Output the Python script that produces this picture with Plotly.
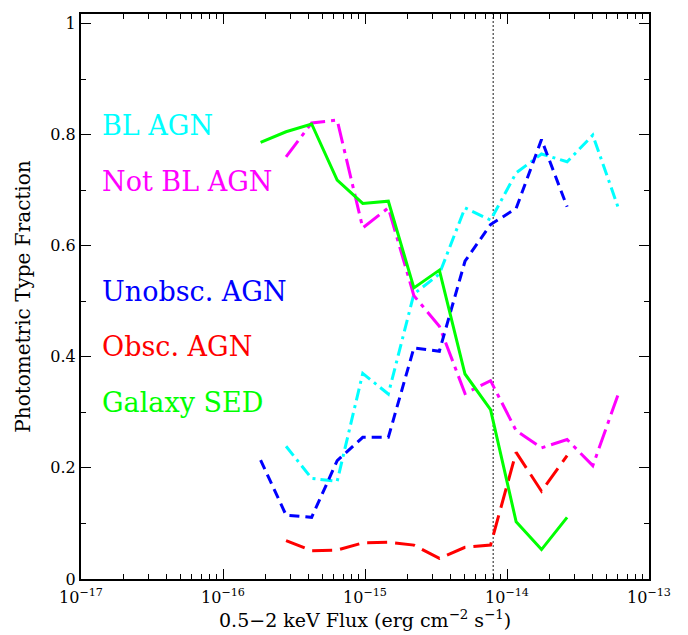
import plotly.graph_objects as go

# Flux bin centres (erg cm^-2 s^-1)
flux = [1.84e-16, 2.78e-16, 4.21e-16, 6.37e-16, 9.64e-16, 1.46e-15, 2.21e-15,
        3.34e-15, 5.06e-15, 7.66e-15, 1.16e-14, 1.75e-14, 2.65e-14, 4.02e-14, 6.08e-14]

bl_agn = [None, 0.239, 0.181, 0.176, 0.370, 0.333, 0.513, 0.549, 0.668, 0.646,
          0.731, 0.765, 0.751, 0.799, 0.668]
not_bl_agn = [None, 0.760, 0.821, 0.826, 0.632, 0.668, 0.510, 0.455, 0.334, 0.357,
              0.267, 0.236, 0.251, 0.204, 0.333]
unobsc_agn = [0.214, 0.115, 0.111, 0.213, 0.255, 0.255, 0.416, 0.410, 0.572, 0.638,
              0.667, 0.791, 0.670, None, None]
obsc_agn = [None, 0.069, 0.051, 0.052, 0.065, 0.066, 0.061, 0.037, 0.057, 0.061,
            0.228, 0.158, 0.222, None, None]
galaxy_sed = [0.786, 0.805, 0.819, 0.718, 0.676, 0.680, 0.524, 0.556, 0.369, 0.305,
              0.103, 0.053, 0.111, None, None]

divider_flux = 8e-15

x_tickvals = [1e-17, 1e-16, 1e-15, 1e-14, 1e-13]
x_ticktext = ["10<sup>\u221217</sup>", "10<sup>\u221216</sup>", "10<sup>\u221215</sup>",
              "10<sup>\u221214</sup>", "10<sup>\u221213</sup>"]
x_minor = [m * d for d in [1e-17, 1e-16, 1e-15, 1e-14] for m in range(2, 10)]
y_tickvals = [0, 0.2, 0.4, 0.6, 0.8, 1]
y_ticktext = ["0", "0.2", "0.4", "0.6", "0.8", "1"]
y_minor = [0.1, 0.3, 0.5, 0.7, 0.9]

x_title = "0.5\u22122 keV Flux (erg cm<sup>\u22122</sup> s<sup>\u22121</sup>)"

series = [
    ("BL AGN", bl_agn, "#00ffff", "12px,5px,3px,5px", 0.817),
    ("Not BL AGN", not_bl_agn, "#ff00ff", "20px,6px,4px,6px", 0.716),
    ("Unobsc. AGN", unobsc_agn, "#0000ff", "10px,6px", 0.5175),
    ("Obsc. AGN", obsc_agn, "#ff0000", "20px,8px", 0.418),
    ("Galaxy SED", galaxy_sed, "#00ff00", "solid", 0.318),
]

fig = go.Figure()
fig.add_trace(go.Scatter(x=[divider_flux, divider_flux], y=[0, 1.02], mode="lines",
                         line=dict(color="#666666", width=1.5, dash="2px,2px"),
                         showlegend=False, hoverinfo="skip"))
for name, vals, col, dash, ly in series:
    fig.add_trace(go.Scatter(x=flux, y=vals, mode="lines", name=name,
                             line=dict(color=col, width=3, dash=dash),
                             connectgaps=False, showlegend=False))
    fig.add_annotation(text=name, xref="paper", yref="y", x=0.034, y=ly,
                       xanchor="left", yanchor="middle", showarrow=False,
                       font=dict(family="DejaVu Serif", size=27, color=col))

fig.add_annotation(text=x_title, xref="paper", yref="paper", x=0.5, y=-0.071,
                   xanchor="center", yanchor="middle", showarrow=False,
                   font=dict(family="DejaVu Serif", size=19, color="black"))

axis_common = dict(showgrid=False, zeroline=False, showline=True, linecolor="black",
                   linewidth=2, mirror="ticks", ticks="inside", tickcolor="black",
                   tickwidth=1.3, ticklen=10,
                   tickfont=dict(family="DejaVu Serif", size=16, color="black"))

fig.update_xaxes(type="log", range=[-17, -13], tickmode="array", tickvals=x_tickvals,
                 ticktext=x_ticktext, ticklabelstandoff=3,
                 minor=dict(ticks="inside", ticklen=5, tickcolor="black", tickwidth=1.3,
                            tickmode="array", tickvals=x_minor, showgrid=False),
                 **axis_common)
fig.update_yaxes(range=[0, 1.017], tickmode="array", tickvals=y_tickvals,
                 ticktext=y_ticktext,
                 minor=dict(ticks="inside", ticklen=5, tickcolor="black", tickwidth=1.3,
                            tickmode="array", tickvals=y_minor, showgrid=False),
                 title=dict(text="Photometric Type Fraction",
                            font=dict(family="DejaVu Serif", size=20, color="black"),
                            standoff=14),
                 **axis_common)

fig.update_layout(width=688, height=635, margin=dict(l=81, r=39, t=12, b=56),
                  plot_bgcolor="white", paper_bgcolor="white", showlegend=False)

fig.write_html("out.html")
